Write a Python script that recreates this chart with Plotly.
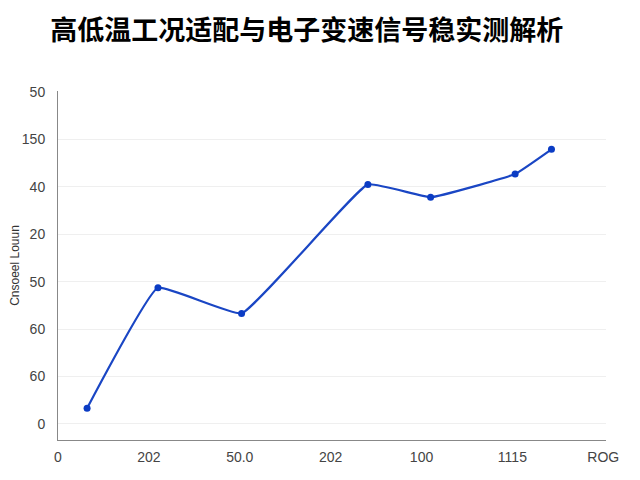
import plotly.graph_objects as go

# measured points (x in tick-slot units, y in tick-step*10 units)
x_vals = [0.32, 1.10, 2.02, 3.41, 4.10, 5.03, 5.43]
y_vals = [3.3, 28.7, 23.3, 50.5, 47.8, 52.7, 57.9]

# tick labels as printed on the chart
x_tickvals = [0, 1, 2, 3, 4, 5, 6]
x_ticktext = ["0", "202", "50.0", "202", "100", "1115", "ROG"]
y_tickvals = [0, 10, 20, 30, 40, 50, 60, 70]
y_ticktext = ["0", "60", "60", "50", "20", "40", "150", "50"]

title = "高低温工况适配与电子变速信号稳实测解析"
y_title = "Cnsoeel Louun"

fig = go.Figure(
    go.Scatter(
        x=x_vals,
        y=y_vals,
        mode="lines+markers",
        line=dict(color="#1a46c4", width=2.2, shape="spline", smoothing=0.3),
        marker=dict(color="#0b3cc4", size=7),
    )
)

# page body adds ~8px offset, margins compensate for it
fig.update_layout(
    width=640,
    height=480,
    paper_bgcolor="white",
    plot_bgcolor="white",
    showlegend=False,
    margin=dict(l=50, r=42, t=83, b=48),
    title=dict(
        text="<b>" + title + "</b>",
        x=0.066,
        xanchor="left",
        y=0.954,
        yanchor="middle",
        font=dict(family="Noto Sans CJK SC", size=27, color="black"),
    ),
    font=dict(family="Liberation Sans", color="#444444"),
)

# axes styling
fig.update_xaxes(
    range=[0, 6.03],
    tickvals=x_tickvals,
    ticktext=x_ticktext,
    showgrid=False,
    zeroline=False,
    showline=True,
    linecolor="#888888",
    linewidth=1,
    ticks="",
    automargin=False,
    ticklabelstandoff=4,
    tickfont=dict(size=14, color="#444444"),
)
fig.update_yaxes(
    range=[-3.4, 70.2],
    tickvals=y_tickvals,
    ticktext=y_ticktext,
    showgrid=True,
    gridcolor="#efefef",
    zeroline=False,
    showline=True,
    linecolor="#888888",
    linewidth=1,
    ticks="",
    automargin=False,
    ticklabelstandoff=9,
    tickfont=dict(size=14, color="#444444"),
    title=dict(text=y_title, font=dict(size=12, color="#333333"), standoff=5),
)

fig.write_html("out.html")
